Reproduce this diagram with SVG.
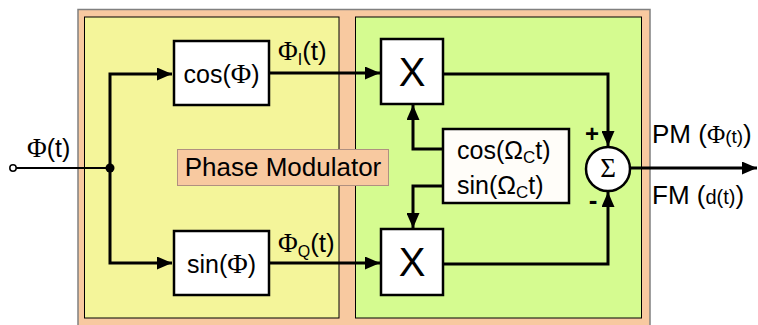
<svg xmlns="http://www.w3.org/2000/svg" width="758" height="325" viewBox="0 0 758 325">
  <style>
    .t { font-family: "Liberation Sans", Arial, sans-serif; fill: #000; }
    .phi { font-family: "Liberation Serif", "Times New Roman", serif; }
    .box { fill: #ffffff; stroke: #000; stroke-width: 2.5; }
    .wire { fill: none; stroke: #000; stroke-width: 3; }
    .thin { fill: none; stroke: #000; stroke-width: 2; }
  </style>
  <defs>
    <marker id="arr" viewBox="0 0 15 13" refX="15" refY="6.5" markerWidth="15" markerHeight="13" markerUnits="userSpaceOnUse" orient="auto">
      <path d="M0,0 L15,6.5 L0,13 Z" fill="#000"/>
    </marker>
  </defs>

  <!-- background panels -->
  <g id="panels">
    <rect x="78" y="9.5" width="572" height="320" fill="#f8c9a0" stroke="#808080" stroke-width="1.5"/>
    <rect x="84.5" y="17" width="254.5" height="301" fill="#f4f59a" stroke="#000" stroke-width="1"/>
    <rect x="355.5" y="17" width="286" height="301" fill="#d5fb90" stroke="#000" stroke-width="1"/>
  </g>

  <!-- connectors -->
  <g id="connectors">
    <line x1="13" y1="168" x2="110" y2="168" class="thin"/>
    <path d="M110,168 V74 H172" class="wire" marker-end="url(#arr)"/>
    <path d="M110,168 V263 H172" class="wire" marker-end="url(#arr)"/>
    <line x1="269" y1="73" x2="380" y2="73" class="wire" marker-end="url(#arr)"/>
    <line x1="269" y1="263" x2="380" y2="263" class="wire" marker-end="url(#arr)"/>
    <path d="M443,149 H413 V105" class="wire" marker-end="url(#arr)"/>
    <path d="M443,186 H413 V228" class="wire" marker-end="url(#arr)"/>
    <path d="M443,74 H608 V146" class="wire" marker-end="url(#arr)"/>
    <path d="M443,264 H608 V192" class="wire" marker-end="url(#arr)"/>
    <line x1="630" y1="168" x2="757" y2="168" class="wire" marker-end="url(#arr)"/>
    <circle cx="110" cy="168" r="4.5" fill="#000"/>
    <circle cx="13" cy="168" r="3.2" fill="#fff" stroke="#000" stroke-width="1.5"/>
  </g>

  <!-- signal labels -->
  <g id="labels">
    <text x="27" y="157" class="t" font-size="25"><tspan class="phi" font-size="27">Φ</tspan>(t)</text>
    <text x="278" y="60" class="t" font-size="26"><tspan class="phi" font-size="27">Φ</tspan><tspan font-size="16" dy="5">I</tspan><tspan dy="-5">(t)</tspan></text>
    <text x="278" y="252" class="t" font-size="26"><tspan class="phi" font-size="27">Φ</tspan><tspan font-size="16" dy="5">Q</tspan><tspan dy="-5">(t)</tspan></text>
    <text x="652" y="143" class="t" font-size="26">PM (<tspan class="phi" font-size="25">Φ</tspan><tspan font-size="19">(t)</tspan>)</text>
    <text x="652" y="204" class="t" font-size="26">FM (<tspan font-size="20">d(t)</tspan>)</text>
    <text x="592" y="142" class="t" font-size="24" font-weight="bold" text-anchor="middle">+</text>
    <text x="593" y="209" class="t" font-size="26" font-weight="bold" text-anchor="middle">-</text>
  </g>

  <g id="cos-phi">
    <rect x="174" y="41" width="95" height="64" class="box"/>
    <text x="221.5" y="83" class="t" font-size="25" text-anchor="middle">cos(<tspan class="phi" font-size="28">Φ</tspan>)</text>
  </g>
  <g id="sin-phi">
    <rect x="174" y="231" width="95" height="64" class="box"/>
    <text x="221.5" y="273" class="t" font-size="25" text-anchor="middle">sin(<tspan class="phi" font-size="28">Φ</tspan>)</text>
  </g>
  <g id="mult-i">
    <rect x="381" y="39" width="62" height="65" class="box"/>
    <text x="412" y="86" class="t" font-size="40" text-anchor="middle">X</text>
  </g>
  <g id="mult-q">
    <rect x="381" y="229" width="62" height="66" class="box"/>
    <text x="412" y="276" class="t" font-size="40" text-anchor="middle">X</text>
  </g>
  <g id="carrier">
    <rect x="443" y="129" width="126" height="74" fill="#fffdf9" stroke="#000" stroke-width="2.5"/>
    <text x="457" y="159" class="t" font-size="25">cos(Ω<tspan font-size="17" dy="4">C</tspan><tspan dy="-4">t)</tspan></text>
    <text x="457" y="194" class="t" font-size="25">sin(Ω<tspan font-size="17" dy="4">C</tspan><tspan dy="-4">t)</tspan></text>
  </g>
  <g id="sum">
    <circle cx="608" cy="169" r="22" fill="#fff" stroke="#000" stroke-width="2.5"/>
    <text x="608" y="177" class="t phi" font-size="27" text-anchor="middle">Σ</text>
  </g>
  <g id="phase-modulator-label">
    <rect x="177.5" y="149.5" width="211" height="36" fill="#f8c9a0" stroke="#b09080" stroke-width="1"/>
    <text x="283" y="176" class="t" font-size="26" text-anchor="middle">Phase Modulator</text>
  </g>
</svg>
